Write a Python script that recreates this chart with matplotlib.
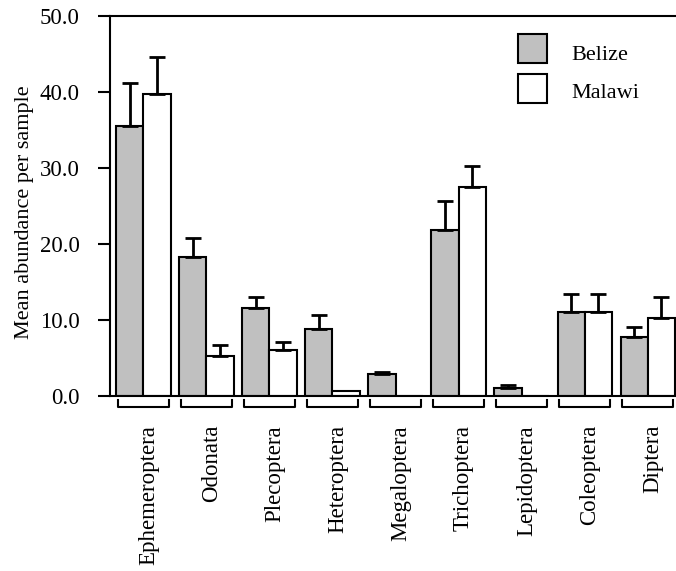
import matplotlib.pyplot as plt
import numpy as np

# данные
orders = ['Ephemeroptera', 'Odonata', 'Plecoptera', 'Heteroptera', 'Megaloptera',
          'Trichoptera', 'Lepidoptera', 'Coleoptera', 'Diptera']
belize = [35.5, 18.3, 11.6, 8.8, 2.9, 21.8, 1.1, 11.0, 7.8]
belize_err = [5.7, 2.5, 1.4, 1.8, 0.3, 3.9, 0.35, 2.4, 1.3]
malawi = [39.7, 5.3, 6.05, 0.7, 0.0, 27.5, 0.0, 11.0, 10.2]
malawi_err = [4.9, 1.4, 1.0, 0.0, 0.0, 2.7, 0.0, 2.4, 2.8]
yticks = [0, 10, 20, 30, 40, 50]

plt.rcParams['font.family'] = 'Liberation Serif'
lw = 1.5
w = 0.43

fig = plt.figure(figsize=(6.76, 5.71), dpi=100)
ax = fig.add_axes([110 / 676, 175 / 571, 566 / 676, 380 / 571])

x = np.arange(len(orders))
ax.bar(x - w / 2, belize, w, color='#c0c0c0', edgecolor='black', linewidth=lw)
ax.bar(x + w / 2, malawi, w, color='white', edgecolor='black', linewidth=lw)

# только верхние усы
for xs, vals, errs in [(x - w / 2, belize, belize_err), (x + w / 2, malawi, malawi_err)]:
    v = np.array(vals, dtype=float)
    e = np.array(errs, dtype=float)
    v[e == 0] = np.nan
    ax.errorbar(xs, v, yerr=[np.zeros_like(e), e], fmt='none', ecolor='black',
                elinewidth=2, capsize=6, capthick=2)

ax.set_xlim(-0.53, 8.45)
ax.set_ylim(0, 50)
ax.set_yticks(yticks)
ax.set_yticklabels(['%.1f' % t for t in yticks], fontsize=16.5)
ax.tick_params(axis='y', length=9, width=lw, pad=13)
ax.set_xticks([])
ax.spines['right'].set_visible(False)
for s in ['left', 'top', 'bottom']:
    ax.spines[s].set_linewidth(lw)

# скобки под группами
tr = ax.get_xaxis_transform()
for i, name in enumerate(orders):
    ax.plot([i - 0.41, i - 0.41, i + 0.41, i + 0.41], [-0.011, -0.029, -0.029, -0.011],
            color='black', lw=lw, transform=tr, clip_on=False)
    ax.text(i + 0.08, -0.076, name, rotation=90, ha='center', va='top',
            fontsize=16.5, transform=tr)

fig.text(25 / 676, 1 - 212 / 571, 'Mean abundance per sample', rotation=90,
         ha='center', va='center', fontsize=16)

# легенда
for ys, yt, col, lab in [(0.914, 0.897, '#c0c0c0', 'Belize'), (0.809, 0.795, 'white', 'Malawi')]:
    ax.add_patch(plt.Rectangle((0.72, ys - 0.038), 0.052, 0.076, facecolor=col,
                               edgecolor='black', lw=lw, transform=ax.transAxes,
                               clip_on=False))
    ax.text(0.815, yt, lab, fontsize=16, va='center', transform=ax.transAxes)

fig.savefig('out.png', dpi=100)
